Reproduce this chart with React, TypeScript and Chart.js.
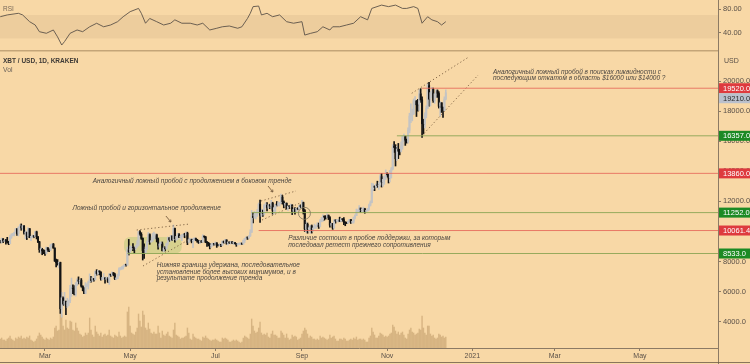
import React, { useEffect, useRef } from "react";
import { Chart, registerables } from "chart.js";

Chart.register(...registerables);
Chart.defaults.font.family = '"Liberation Sans", Arial, sans-serif';

// ---- time axis (days counted from Jan 1, 2020) ----
const FIRST_DAY = 27; // first candle: Jan 28, 2020
const X_MIN = 27.8;
const X_MAX = 541.9;
const monthTickDays = [60, 121, 182, 244, 305, 366, 425, 486];
const monthTickLabels = ["Mar", "May", "Jul", "Sep", "Nov", "2021", "Mar", "May"];

// ---- XBT/USD daily candles (Jan 28 .. Dec 13, 2020) ----
const closes = [
  9390, 9290, 9510, 9350,
  9390, 9340, 9290, 9180, 9620, 9750, 9810, 9910, 10170, 9860, 10270, 10360, 10240, 10370, 9900, 9930, 9700, 10180, 9600, 9610, 9690, 9660, 9970, 9650, 9310, 8790, 8810, 8710, 8530,
  8520, 8920, 8760, 8750, 9070, 9160, 8900, 8030, 7930, 7890, 7940, 4860, 5590, 5170, 5360, 5030, 5330, 5410, 6190, 6200, 6190, 5830, 6480, 6770, 6690, 6760, 6370, 6250, 5880, 6400, 6420,
  6640, 6800, 6740, 6870, 6780, 7340, 7200, 7370, 7300, 6870, 6890, 6910, 6860, 6860, 6640, 7120, 7100, 7260, 7130, 6850, 6860, 7140, 7510, 7540, 7550, 7700, 7790, 7760, 8780, 8630,
  8830, 8970, 8900, 8890, 9030, 9150, 9990, 9810, 9540, 8730, 8570, 8820, 9310, 9790, 9320, 9380, 9680, 9730, 9780, 9510, 9070, 9170, 9180, 8720, 8900, 8840, 9200, 9570, 9430, 9700, 9450,
  10200, 9520, 9670, 9790, 9620, 9670, 9760, 9780, 9770, 9880, 9270, 9460, 9470, 9340, 9430, 9520, 9460, 9380, 9300, 9360, 9290, 9680, 9630, 9290, 9250, 9160, 9010, 9120, 9190, 9140,
  9230, 9090, 9060, 9140, 9080, 9350, 9250, 9430, 9230, 9290, 9240, 9300, 9240, 9250, 9190, 9130, 9160, 9170, 9210, 9160, 9390, 9540, 9610, 9550, 9710, 9940, 11030, 10920, 11110, 11110, 11350,
  11800, 11070, 11230, 11190, 11750, 11770, 11600, 11760, 11680, 11880, 11400, 11580, 11780, 11770, 11860, 11910, 12280, 11960, 11760, 11870, 11520, 11680, 11650, 11760, 11340, 11470, 11320, 11530, 11480, 11710, 11650,
  11920, 11390, 10170, 10470, 10170, 10250, 10370, 10130, 10230, 10340, 10390, 10440, 10330, 10680, 10790, 10950, 10940, 10930, 11080, 10920, 10420, 10530, 10240, 10740, 10690, 10730, 10770, 10690, 10840, 10780,
  10620, 10570, 10550, 10670, 10790, 10600, 10670, 10920, 11050, 11300, 11380, 11550, 11430, 11430, 11500, 11330, 11370, 11510, 11750, 11920, 12820, 12980, 12930, 13120, 13030, 13070, 13650, 13280, 13460, 13560, 13800,
  13760, 13550, 14030, 14160, 15590, 15580, 14830, 15480, 15330, 15310, 15700, 16290, 16330, 16070, 15960, 16730, 17660, 17800, 17820, 18690, 18690, 18420, 18380, 19150, 18740, 17160, 17140, 17720, 18180, 19700,
  18790, 19230, 19450, 18700, 19150, 19360, 19170, 18320, 18550, 18250, 18040, 18800, 19210,
];
const highs = [
  9420, 9410, 9560, 9530,
  9440, 9470, 9610, 9340, 9750, 9850, 9880, 9950, 10190, 10200, 10310, 10450, 10500, 10400, 10390, 10050, 9960, 10250, 10200, 9690, 9770, 9700, 9990, 10020, 9660, 9340, 8960, 8880, 8790,
  8750, 8970, 8920, 8850, 9140, 9180, 9200, 8900, 8170, 8130, 7970, 7960, 5950, 5650, 5950, 5370, 5560, 5440, 6420, 6900, 6450, 6400, 6600, 6850, 6980, 6790, 6870, 6380, 6260, 6600, 6520,
  6700, 7180, 7020, 6990, 6880, 7370, 7460, 7420, 7380, 7310, 6950, 7200, 6920, 6980, 6940, 7200, 7150, 7310, 7260, 7220, 6940, 7170, 7580, 7600, 7670, 7710, 7810, 7810, 8960, 9470,
  9040, 9010, 9190, 8950, 9090, 9390, 9990, 10050, 9920, 9570, 9170, 8970, 9380, 9930, 9840, 9580, 9880, 9950, 9860, 9820, 9560, 9270, 9310, 9300, 8980, 9000, 9220, 9620, 9600, 9740, 9700,
  10430, 10230, 9690, 9880, 9850, 9730, 9790, 9810, 9880, 9980, 9950, 9560, 9500, 9490, 9540, 9590, 9560, 9480, 9390, 9380, 9410, 9780, 9690, 9670, 9330, 9280, 9200, 9190, 9230, 9200,
  9300, 9260, 9130, 9190, 9150, 9370, 9360, 9470, 9450, 9300, 9300, 9340, 9340, 9280, 9270, 9210, 9190, 9210, 9240, 9230, 9430, 9550, 9650, 9640, 9730, 10110, 11400, 11250, 11340, 11170, 11460,
  11890, 12080, 11480, 11420, 11790, 11910, 11920, 11800, 11810, 12070, 11940, 11620, 11800, 11990, 11970, 11930, 12480, 12400, 12030, 11890, 11900, 11690, 11710, 11820, 11770, 11530, 11590, 11550, 11570, 11720, 11770,
  12070, 11950, 11460, 10640, 10560, 10350, 10400, 10430, 10360, 10490, 10400, 10580, 10560, 10790, 10940, 11100, 11040, 11050, 11170, 11090, 10990, 10580, 10540, 10790, 10770, 10790, 10800, 10950, 10860, 10850,
  10920, 10630, 10600, 10690, 10800, 10800, 10680, 10960, 11110, 11490, 11440, 11720, 11560, 11550, 11620, 11540, 11400, 11530, 11820, 12030, 13210, 13170, 13030, 13160, 13340, 13250, 13780, 13860, 13640, 13680, 14090,
  13900, 13830, 14070, 14250, 15770, 15980, 15770, 15660, 15850, 15460, 15960, 16340, 16480, 16330, 16140, 16880, 17860, 18480, 18130, 18810, 18970, 18700, 18780, 19420, 19490, 18940, 17460, 17880, 18350, 19850,
  19920, 19300, 19580, 19530, 19170, 19420, 19410, 19290, 18640, 18560, 18280, 18950, 19410,
];
const lows = [
  8880, 9240, 9220, 9260,
  9320, 9160, 9240, 9120, 9180, 9540, 9720, 9700, 9890, 9740, 9700, 10260, 10080, 10130, 9820, 9510, 9460, 9600, 9580, 9380, 9570, 9580, 9640, 9500, 9260, 8610, 8530, 8450, 8520,
  8410, 8500, 8660, 8660, 8750, 8990, 8880, 8010, 7640, 7760, 7570, 4550, 4300, 5080, 5100, 4470, 4950, 5060, 5260, 5680, 5870, 5780, 5700, 6400, 6510, 6550, 6300, 6050, 5870, 5860, 6330,
  6170, 6600, 6620, 6670, 6700, 6780, 7090, 7150, 7110, 6760, 6780, 6810, 6560, 6790, 6620, 6480, 7000, 7060, 7050, 6800, 6790, 6850, 7040, 7440, 7470, 7500, 7660, 7690, 7750, 8430,
  8630, 8760, 8720, 8560, 8800, 8940, 9040, 9720, 9470, 8100, 8200, 8540, 8800, 9260, 9140, 9270, 9330, 9480, 9500, 9300, 8820, 8950, 9100, 8700, 8640, 8700, 8830, 9110, 9340, 9360, 9410,
  9420, 9280, 9410, 9450, 9590, 9540, 9380, 9650, 9580, 9700, 9120, 9240, 9390, 9240, 8920, 9380, 9380, 9280, 9200, 9190, 9270, 9280, 9570, 9250, 9000, 9040, 8840, 8940, 9020, 9080,
  9090, 8940, 9040, 9040, 8980, 9060, 9220, 9230, 9150, 9110, 9200, 9160, 9190, 9120, 9170, 9010, 9090, 9120, 9120, 9140, 9150, 9260, 9480, 9470, 9540, 9660, 9940, 10570, 10880, 10840, 10990,
  11220, 10600, 11000, 11000, 11090, 11590, 11370, 11530, 11510, 11530, 11150, 11160, 11300, 11690, 11690, 11690, 11840, 11820, 11570, 11680, 11480, 11390, 11520, 11600, 11120, 11280, 11150, 11300, 11440, 11460, 11570,
  11550, 11160, 10000, 9940, 9880, 10020, 9880, 9890, 10000, 10200, 10200, 10300, 10200, 10300, 10640, 10660, 10750, 10820, 10900, 10790, 10280, 10370, 10140, 10200, 10550, 10670, 10620, 10660, 10640, 10680,
  10450, 10380, 10520, 10530, 10630, 10530, 10550, 10550, 10830, 11050, 11280, 11250, 11280, 11300, 11270, 11210, 11310, 11360, 11420, 11690, 11900, 12720, 12710, 12900, 12930, 12790, 13060, 12950, 12990, 13130, 13440,
  13620, 13220, 13290, 13550, 14100, 15250, 14350, 14720, 14840, 15090, 15280, 15460, 15960, 15720, 15870, 15870, 16560, 17230, 17350, 17770, 18420, 17640, 18000, 18040, 18580, 16250, 16480, 16880, 17550, 18180,
  18320, 18340, 18900, 18580, 18510, 18900, 18910, 18200, 17650, 17910, 17580, 18020, 18750,
];
const firstOpen = 8900;
// daily crypto candles open at the previous day's close
const opens = [firstOpen, ...closes.slice(0, closes.length - 1)];

// daily volume, thousand BTC
const volumes = [
  11, 9, 10, 8,
  8, 7, 9, 10, 12, 9, 8, 7, 10, 9, 11, 10, 12, 9, 10, 9, 11, 10, 12, 8, 7, 6, 7, 9, 12, 15, 13, 11, 9,
  8, 10, 9, 8, 10, 9, 11, 20, 22, 17, 18, 35, 33, 22, 18, 28, 20, 19, 27, 26, 18, 17, 25, 20, 17, 14, 13, 11, 12, 15, 13,
  15, 30, 18, 13, 11, 22, 16, 14, 12, 15, 11, 13, 14, 12, 13, 18, 12, 11, 10, 13, 12, 11, 16, 12, 10, 11, 12, 11, 36, 41,
  22, 15, 14, 13, 16, 20, 34, 27, 21, 37, 33, 20, 18, 25, 19, 15, 14, 16, 14, 14, 22, 15, 10, 17, 13, 12, 14, 16, 12, 11, 10,
  18, 25, 13, 12, 11, 9, 10, 10, 11, 12, 20, 15, 9, 8, 14, 11, 10, 9, 9, 8, 7, 11, 10, 12, 10, 9, 8, 7, 8, 8,
  9, 8, 7, 6, 6, 10, 9, 10, 9, 8, 6, 6, 7, 8, 7, 8, 7, 6, 5, 6, 10, 12, 11, 10, 9, 14, 29, 22, 17, 15, 16,
  20, 26, 15, 13, 14, 13, 15, 11, 10, 14, 17, 13, 13, 12, 10, 10, 17, 15, 13, 10, 14, 10, 8, 9, 13, 11, 12, 11, 8, 9, 10,
  14, 17, 20, 18, 14, 10, 12, 11, 9, 9, 8, 9, 8, 12, 10, 11, 10, 9, 8, 9, 13, 10, 11, 12, 9, 7, 7, 9, 9, 8,
  10, 9, 7, 7, 8, 9, 8, 10, 9, 11, 8, 9, 9, 8, 9, 8, 6, 6, 10, 12, 20, 16, 13, 10, 10, 12, 15, 14, 13, 11, 12,
  11, 12, 14, 15, 23, 21, 17, 14, 16, 13, 15, 16, 13, 10, 9, 14, 18, 20, 16, 15, 13, 14, 15, 19, 18, 32, 20, 15, 13, 22,
  22, 14, 12, 13, 10, 9, 10, 14, 13, 11, 12, 10, 11,
];

// ---- RSI ----
const rsiDays = [28, 33, 41, 44, 49, 53, 56, 61, 66, 69, 72, 74, 78, 83, 87, 92, 97, 102, 107, 112, 116, 121, 127, 129, 132, 135, 140, 145, 150, 153, 158, 164, 169, 173, 178, 183, 187, 192, 198, 201, 205, 207, 209, 213, 215, 219, 223, 228, 233, 238, 244, 246, 250, 255, 259, 264, 266, 271, 276, 281, 286, 291, 294, 301, 306, 311, 316, 319, 324, 327, 330, 334, 337, 341, 344, 347];
const rsiValues = [67, 70, 72.7, 70, 58.6, 53, 41.7, 39, 44.6, 33, 19.2, 25, 39, 44.6, 41.7, 50, 55.9, 50, 53, 58.6, 67, 75.5, 81, 72.7, 56, 64, 58.6, 53, 56, 61.7, 56, 56, 53, 56, 44.6, 47.5, 50, 51.3, 47.5, 50, 64, 72.7, 84, 85, 70, 72.7, 67, 70, 58.6, 56, 58.6, 36, 38.8, 41.7, 50, 44.6, 50, 50, 53, 56, 67, 61.7, 81, 86.6, 84, 86.6, 81, 81, 84, 81, 56, 67, 61.7, 58.6, 53, 58.6];
const rsiBand = [70, 30];
const rsiTicks = [80, 40];

// ---- price axis ----
const priceTicks = [4000, 6000, 8000, 10000, 12000, 14000, 16000, 18000, 20000];
const lastPrice = 19210;

// ---- horizontal levels ----
const levelValues = [19520, 16357, 13860, 11252, 10061.4, 8533];
const levelStartDays = [330, 312, 27.8, 208, 213, 119];
const levelKinds = ["res", "sup", "res", "sup", "res", "sup"];

// ---- dotted trend lines ----
const trendStartDays = [125.7, 130.2, 214.7, 215.4, 322.6, 329.7];
const trendStartPrices = [10096, 7703, 12024, 10760, 19182, 16344];
const trendEndDays = [163.8, 163.8, 239.7, 242.6, 363.1, 370.2];
const trendEndPrices = [10495, 9500, 12688, 11890, 21575, 20399];

// ---- small arrows from notes to lines ----
const arrowStartDays = [146.6, 219.7];
const arrowStartPrices = [11026, 13020];
const arrowEndDays = [150.2, 223.2];
const arrowEndPrices = [10627, 12621];

// ---- marked zone & circle ----
const highlightDays = [116.6, 157.9];
const highlightPrices = [9630, 8533];
const circleDay = 245.8;
const circlePrice = 11206;

// ---- notes ----
const noteLines = [
  ["Аналогичный ложный пробой в поисках ликвидности с", "последующим откатом в область $16000 или $14000 ?"],
  ["Аналогичный ложный пробой с продолжением в боковом тренде"],
  ["Ложный пробой и горизонтальное продолжение"],
  ["Нижняя граница удержана, последовательное", "установление более высоких минимумов, и в", "результате продолжение тренда"],
  ["Различие состоит в пробое поддержки, за которым", "последовал ретест прежнего сопротивления"],
];
const noteDays = [380.8, 94.2, 79.8, 140, 234.2];
const notePrices = [20618, 13373, 11538, 7769, 9531];

// ---- styles ----
const BG = "rgb(248,216,166)";
const BAND = "rgb(237,205,157)";
const UP = "#c4c4c4";
const DOWN = "#141414";
const VOL = "rgba(170,130,80,0.42)";
const AXIS = "rgb(140,122,100)";
const TICK_TXT = "#5a5048";
const RES_LINE = "rgba(230,105,90,0.85)";
const SUP_LINE = "rgba(140,165,85,0.9)";
const RES_BOX = "rgb(222,58,62)";
const SUP_BOX = "rgb(28,138,36)";
const LAST_BOX = "rgb(186,192,204)";
const NOTE = "#4a4540";
const DOTTED = "rgba(120,92,62,0.9)";

const bgPlugin = {
  id: "bg",
  beforeDraw(chart: any) {
    const { ctx, width, height } = chart;
    ctx.save();
    ctx.fillStyle = BG;
    ctx.fillRect(0, 0, width, height);
    ctx.restore();
  },
};

const rsiLabel = {
  id: "rsiLabel",
  afterDraw(chart: any) {
    const { ctx } = chart;
    ctx.save();
    ctx.font = '6.5px "Liberation Sans", Arial, sans-serif';
    ctx.fillStyle = "#7a6a5a";
    ctx.textBaseline = "middle";
    ctx.fillText("RSI", 3, 9);
    ctx.restore();
  },
};

const priceOverlay = {
  id: "priceOverlay",
  beforeDatasetsDraw(chart: any) {
    const { ctx, scales } = chart;
    const xs = scales.x, ys = scales.y;
    const x0 = xs.getPixelForValue(highlightDays[0]);
    const x1 = xs.getPixelForValue(highlightDays[1]);
    const y0 = ys.getPixelForValue(highlightPrices[0]);
    const y1 = ys.getPixelForValue(highlightPrices[1]);
    ctx.save();
    ctx.fillStyle = "rgba(170,200,110,0.42)";
    ctx.beginPath();
    ctx.roundRect(x0, Math.min(y0, y1), x1 - x0, Math.abs(y1 - y0), 6);
    ctx.fill();
    ctx.restore();
  },
  afterDatasetsDraw(chart: any) {
    const { ctx, scales } = chart;
    const xs = scales.x, ys = scales.y;
    ctx.save();
    // circle
    ctx.strokeStyle = "rgba(130,120,95,0.85)";
    ctx.lineWidth = 1;
    ctx.beginPath();
    ctx.arc(xs.getPixelForValue(circleDay), ys.getPixelForValue(circlePrice), 6, 0, Math.PI * 2);
    ctx.stroke();
    // arrows
    ctx.strokeStyle = DOTTED;
    arrowStartDays.forEach((d, i) => {
      const ax = xs.getPixelForValue(d), ay = ys.getPixelForValue(arrowStartPrices[i]);
      const bx = xs.getPixelForValue(arrowEndDays[i]), by = ys.getPixelForValue(arrowEndPrices[i]);
      const ang = Math.atan2(by - ay, bx - ax);
      ctx.beginPath();
      ctx.moveTo(ax, ay);
      ctx.lineTo(bx, by);
      ctx.moveTo(bx - 2.5 * Math.cos(ang - 0.6), by - 2.5 * Math.sin(ang - 0.6));
      ctx.lineTo(bx, by);
      ctx.lineTo(bx - 2.5 * Math.cos(ang + 0.6), by - 2.5 * Math.sin(ang + 0.6));
      ctx.stroke();
    });
    // notes
    ctx.font = 'italic 6.5px "Liberation Sans", Arial, sans-serif';
    ctx.fillStyle = NOTE;
    ctx.textBaseline = "middle";
    noteLines.forEach((lines, i) => {
      const x = xs.getPixelForValue(noteDays[i]);
      const y = ys.getPixelForValue(notePrices[i]);
      lines.forEach((t, j) => ctx.fillText(t, x, y + j * 6.7));
    });
    ctx.restore();
  },
  afterDraw(chart: any) {
    const { ctx, scales, chartArea, width, height } = chart;
    const ys = scales.y;
    ctx.save();
    // axis line continues through time-axis area, bottom frame
    ctx.strokeStyle = AXIS;
    ctx.lineWidth = 1;
    ctx.beginPath();
    ctx.moveTo(chartArea.right + 0.5, chartArea.bottom);
    ctx.lineTo(chartArea.right + 0.5, height);
    ctx.stroke();
    ctx.strokeStyle = "rgba(110,92,72,0.8)";
    ctx.beginPath();
    ctx.moveTo(0, height - 1.5);
    ctx.lineTo(width, height - 1.5);
    ctx.stroke();

    // price label boxes
    const boxes = levelValues.map((v, i) => ({
      v,
      y: ys.getPixelForValue(v),
      fill: levelKinds[i] === "res" ? RES_BOX : SUP_BOX,
      txt: "#ffffff",
    }));
    boxes.push({ v: lastPrice, y: ys.getPixelForValue(lastPrice), fill: LAST_BOX, txt: "#2a2a2a" });
    boxes.sort((a, b) => a.y - b.y);
    for (let i = 1; i < boxes.length; i++) {
      if (boxes[i].y - boxes[i - 1].y < 10) boxes[i].y = boxes[i - 1].y + 10;
    }
    ctx.font = '7.5px "Liberation Sans", Arial, sans-serif';
    ctx.textBaseline = "middle";
    boxes.forEach((b) => {
      ctx.fillStyle = b.fill;
      ctx.fillRect(chartArea.right + 1, b.y - 5, width - chartArea.right - 1, 10);
      ctx.fillStyle = b.txt;
      ctx.fillText(b.v.toFixed(1), chartArea.right + 5, b.y + 0.5);
    });

    // header texts
    ctx.fillStyle = "#3e3a36";
    ctx.font = 'bold 6.5px "Liberation Sans", Arial, sans-serif';
    ctx.fillText("XBT / USD, 1D, KRAKEN", 3, 9.7);
    ctx.fillStyle = "#6a625a";
    ctx.font = '6.8px "Liberation Sans", Arial, sans-serif';
    ctx.fillText("Vol", 3, 18.3);
    ctx.fillStyle = TICK_TXT;
    ctx.font = '7px "Liberation Sans", Arial, sans-serif';
    ctx.fillText("USD", chartArea.right + 6, 8.7);
    ctx.restore();
  },
};

function rightAxisFit(scale: any) {
  scale.width = 32;
  scale.paddingTop = 0;
  scale.paddingBottom = 0;
}

function makeRsiConfig(): any {
  return {
    type: "line",
    data: {
      datasets: [
        {
          data: rsiDays.map((d, i) => ({ x: d, y: rsiValues[i] })),
          borderColor: "#5c5248",
          borderWidth: 0.9,
          pointRadius: 0,
          tension: 0,
          fill: false,
          order: 0,
        },
        {
          data: [
            { x: X_MIN, y: rsiBand[0] },
            { x: X_MAX, y: rsiBand[0] },
          ],
          borderColor: "rgba(0,0,0,0)",
          borderWidth: 0,
          pointRadius: 0,
          backgroundColor: BAND,
          fill: { value: rsiBand[1] },
          order: 1,
        },
      ],
    },
    options: {
      responsive: false,
      animation: false,
      events: [],
      layout: { padding: 0 },
      plugins: { legend: { display: false }, tooltip: { enabled: false } },
      scales: {
        x: {
          type: "linear",
          min: X_MIN,
          max: X_MAX,
          offset: false,
          ticks: { display: false },
          grid: { display: false, drawTicks: false },
          border: { display: true, color: "rgb(196,165,120)", width: 1.5 },
          afterFit(s: any) {
            s.height = 1;
            s.paddingLeft = 0;
            s.paddingRight = 0;
          },
        },
        y: {
          position: "right",
          min: 9.1,
          max: 95.2,
          grid: { drawOnChartArea: false, tickLength: 3, color: AXIS },
          border: { display: true, color: AXIS, width: 1 },
          ticks: {
            color: TICK_TXT,
            padding: 2,
            font: { size: 7.5 },
            callback: (v: number) => v.toFixed(2),
          },
          afterBuildTicks(s: any) {
            s.ticks = rsiTicks.map((v) => ({ value: v }));
          },
          afterFit: rightAxisFit,
        },
      },
    },
    plugins: [bgPlugin, rsiLabel],
  };
}

function makePriceConfig(): any {
  const isUp = (i: number) => closes[i] >= opens[i];
  const colorOf = (c: any) => (isUp(c.dataIndex) ? UP : DOWN);
  const levelSets = levelValues.map((v, i) => ({
    type: "line",
    data: [
      { x: levelStartDays[i], y: v },
      { x: X_MAX, y: v },
    ],
    yAxisID: "y",
    borderColor: levelKinds[i] === "res" ? RES_LINE : SUP_LINE,
    borderWidth: 1,
    pointRadius: 0,
    fill: false,
    order: 0,
  }));
  const trendSets = trendStartDays.map((d, i) => ({
    type: "line",
    data: [
      { x: d, y: trendStartPrices[i] },
      { x: trendEndDays[i], y: trendEndPrices[i] },
    ],
    yAxisID: "y",
    borderColor: DOTTED,
    borderWidth: 1,
    borderDash: [1.2, 2.4],
    pointRadius: 0,
    fill: false,
    order: 0,
  }));
  return {
    type: "bar",
    data: {
      datasets: [
        ...levelSets,
        ...trendSets,
        {
          type: "bar",
          data: closes.map((c, i) => ({ x: FIRST_DAY + i, y: [opens[i], c] })),
          yAxisID: "y",
          backgroundColor: colorOf,
          barThickness: 1.4,
          minBarLength: 1,
          grouped: false,
          borderWidth: 0,
          order: 2,
        },
        {
          type: "bar",
          data: closes.map((_, i) => ({ x: FIRST_DAY + i, y: [lows[i], highs[i]] })),
          yAxisID: "y",
          backgroundColor: colorOf,
          barThickness: 1,
          grouped: false,
          borderWidth: 0,
          order: 3,
        },
        {
          type: "bar",
          data: volumes.map((v, i) => ({ x: FIRST_DAY + i, y: v })),
          yAxisID: "yv",
          backgroundColor: VOL,
          barThickness: 0.75,
          grouped: false,
          borderWidth: 0,
          order: 5,
        },
      ],
    },
    options: {
      responsive: false,
      animation: false,
      events: [],
      layout: { padding: 0 },
      plugins: { legend: { display: false }, tooltip: { enabled: false } },
      scales: {
        x: {
          type: "linear",
          min: X_MIN,
          max: X_MAX,
          offset: false,
          grid: { drawOnChartArea: false, tickLength: 3, color: AXIS, offset: false },
          border: { display: true, color: AXIS, width: 1 },
          ticks: {
            color: TICK_TXT,
            padding: 1,
            maxRotation: 0,
            autoSkip: false,
            font: { size: 7 },
            callback: (_v: number, i: number) => monthTickLabels[i],
          },
          afterBuildTicks(s: any) {
            s.ticks = monthTickDays.map((v) => ({ value: v }));
          },
          afterFit(s: any) {
            s.height = 16;
            s.paddingLeft = 0;
            s.paddingRight = 0;
          },
        },
        y: {
          position: "right",
          min: 2252,
          max: 21928,
          grid: { drawOnChartArea: false, tickLength: 3, color: AXIS },
          border: { display: true, color: AXIS, width: 1 },
          ticks: {
            color: TICK_TXT,
            padding: 2,
            font: { size: 7.5 },
            callback: (v: number) => v.toFixed(1),
          },
          afterBuildTicks(s: any) {
            s.ticks = priceTicks.map((v) => ({ value: v }));
          },
          afterFit: rightAxisFit,
        },
        yv: {
          display: false,
          position: "right",
          min: 0,
          max: 296,
        },
      },
    },
    plugins: [bgPlugin, priceOverlay],
  };
}

export default function App() {
  const rsiRef = useRef<HTMLCanvasElement>(null);
  const priceRef = useRef<HTMLCanvasElement>(null);
  useEffect(() => {
    const rsiChart = new Chart(rsiRef.current as HTMLCanvasElement, makeRsiConfig());
    const priceChart = new Chart(priceRef.current as HTMLCanvasElement, makePriceConfig());
    return () => {
      rsiChart.destroy();
      priceChart.destroy();
    };
  }, []);
  return (
    <div style={{ position: "absolute", left: 0, top: 0, width: 750, height: 364, background: BG, overflow: "hidden" }}>
      <canvas ref={rsiRef} width={750} height={52} style={{ display: "block", width: 750, height: 52 }} />
      <canvas ref={priceRef} width={750} height={312} style={{ display: "block", width: 750, height: 312 }} />
    </div>
  );
}
